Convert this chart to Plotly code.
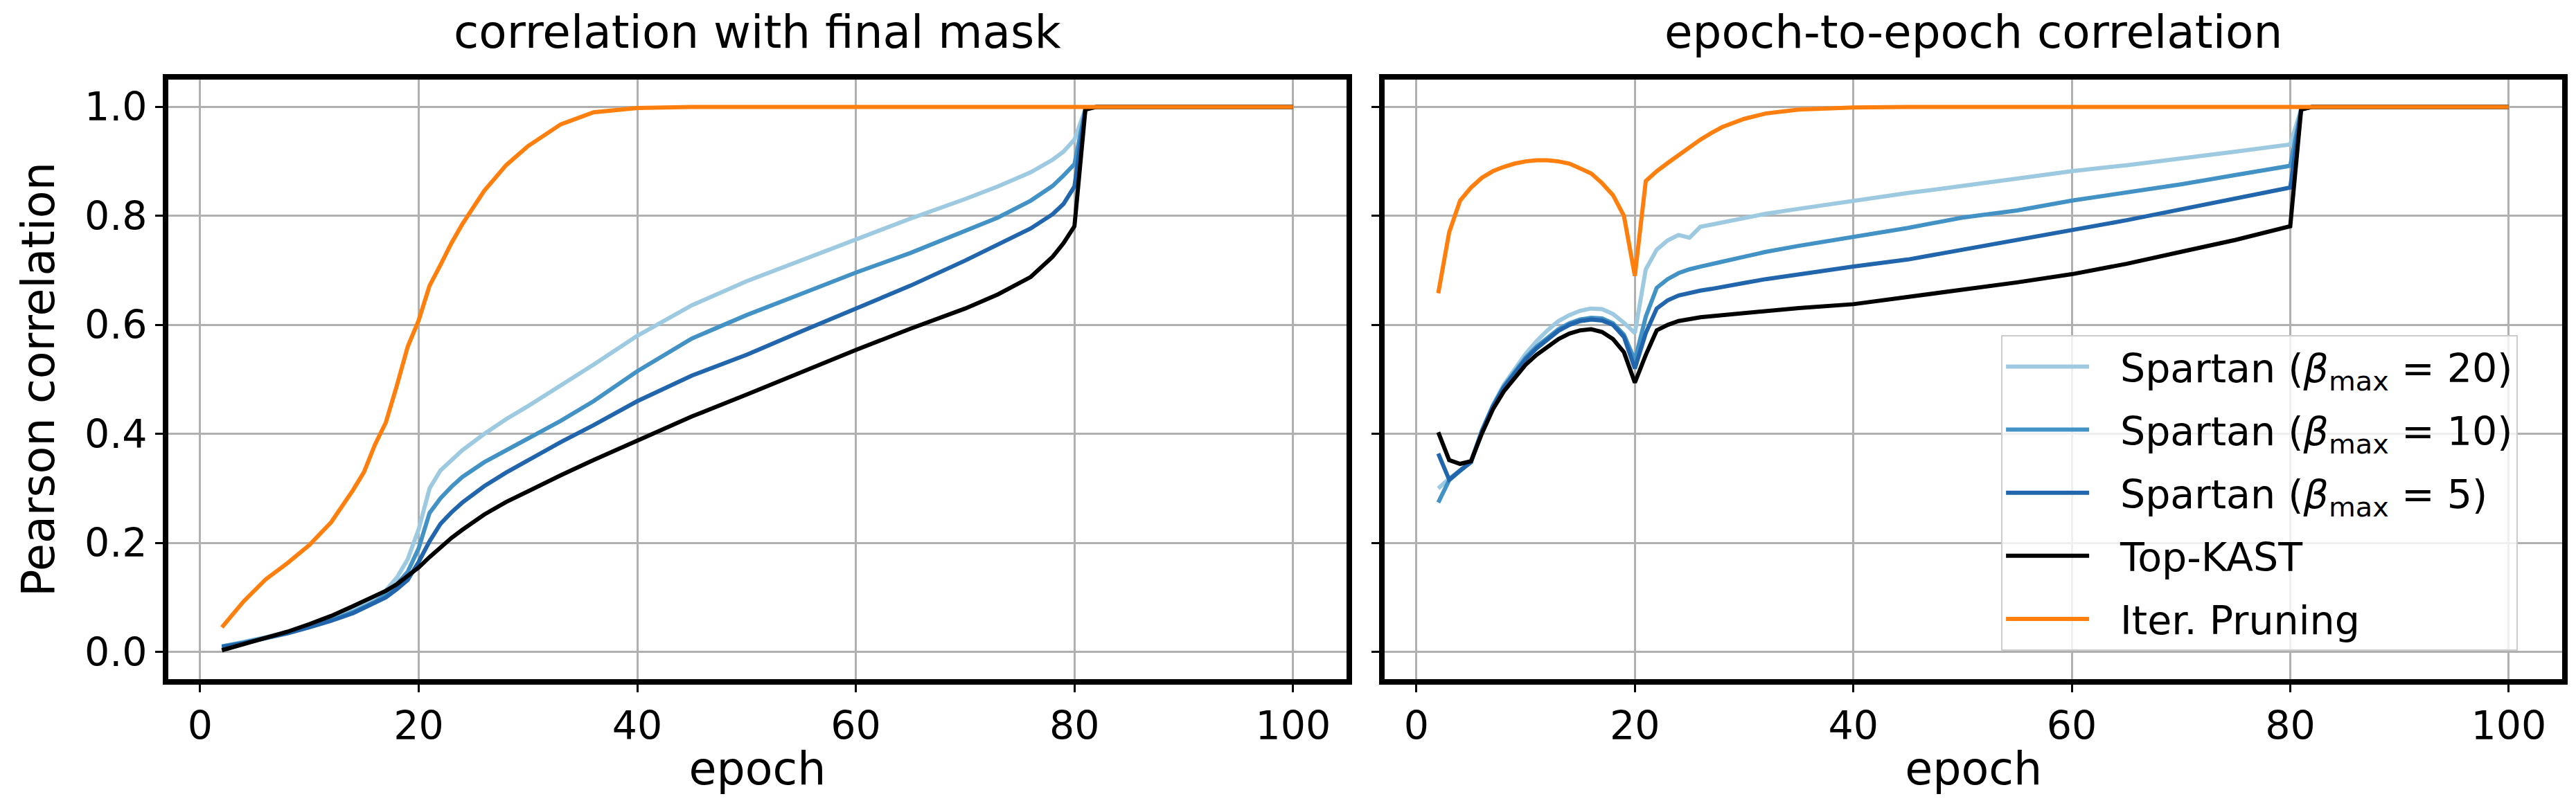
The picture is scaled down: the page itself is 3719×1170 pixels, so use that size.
import plotly.graph_objects as go

left_epochs = [2, 4, 6, 8, 10, 12, 14, 15, 16, 17, 18, 19, 20, 21, 22, 23, 24, 26, 28, 30,
               33, 36, 40, 45, 50, 55, 60, 65, 70, 73, 76, 78, 79, 80, 81, 82, 90, 100]
right_epochs = [2, 3, 4, 5, 6, 7, 8, 9, 10, 11, 12, 13, 14, 15, 16, 17, 18, 19, 20, 21, 22,
                23, 24, 25, 26, 27, 28, 30, 32, 35, 40, 45, 50, 55, 60, 65, 70, 75, 80, 81, 82, 90, 100]

# correlation with final mask
left_spartan20 = [0.010, 0.018, 0.027, 0.036, 0.047, 0.060, 0.076, 0.086, 0.097, 0.113, 0.136, 0.170,
                  0.225, 0.300, 0.333, 0.352, 0.370, 0.400, 0.427, 0.451, 0.488, 0.527, 0.580, 0.636,
                  0.680, 0.719, 0.757, 0.795, 0.831, 0.854, 0.880, 0.903, 0.918, 0.940, 0.996, 1.0, 1.0, 1.0]
left_spartan10 = [0.010, 0.017, 0.026, 0.035, 0.046, 0.058, 0.073, 0.082, 0.092, 0.105, 0.124, 0.147,
                  0.190, 0.255, 0.282, 0.303, 0.321, 0.348, 0.370, 0.392, 0.424, 0.460, 0.515, 0.575,
                  0.618, 0.657, 0.696, 0.732, 0.773, 0.797, 0.828, 0.855, 0.874, 0.895, 0.996, 1.0, 1.0, 1.0]
left_spartan5 = [0.009, 0.016, 0.025, 0.034, 0.045, 0.057, 0.071, 0.080, 0.089, 0.100, 0.115, 0.132,
                 0.165, 0.203, 0.235, 0.256, 0.274, 0.304, 0.329, 0.352, 0.385, 0.416, 0.460, 0.507,
                 0.545, 0.588, 0.629, 0.672, 0.718, 0.747, 0.777, 0.803, 0.822, 0.854, 0.996, 1.0, 1.0, 1.0]
left_topkast = [0.003, 0.014, 0.025, 0.037, 0.051, 0.066, 0.084, 0.093, 0.103, 0.112, 0.124, 0.139,
                0.155, 0.174, 0.192, 0.209, 0.224, 0.252, 0.275, 0.295, 0.324, 0.352, 0.387, 0.432,
                0.472, 0.514, 0.554, 0.593, 0.630, 0.656, 0.688, 0.725, 0.750, 0.781, 0.995, 1.0, 1.0, 1.0]
left_iterprune = [0.045, 0.093, 0.133, 0.163, 0.196, 0.238, 0.297, 0.330, 0.380, 0.421, 0.488, 0.560,
                  0.608, 0.672, 0.710, 0.750, 0.785, 0.846, 0.893, 0.928, 0.968, 0.990, 0.998, 1.0,
                  1.0, 1.0, 1.0, 1.0, 1.0, 1.0, 1.0, 1.0, 1.0, 1.0, 1.0, 1.0, 1.0, 1.0]

# epoch-to-epoch correlation
right_spartan20 = [0.300, 0.318, 0.333, 0.350, 0.407, 0.453, 0.490, 0.520, 0.547, 0.570, 0.590, 0.607,
                   0.618, 0.626, 0.630, 0.629, 0.620, 0.604, 0.585, 0.702, 0.738, 0.755, 0.765, 0.760,
                   0.780, 0.784, 0.788, 0.796, 0.804, 0.813, 0.828, 0.842, 0.855, 0.868, 0.882, 0.893,
                   0.905, 0.918, 0.931, 0.996, 1.0, 1.0, 1.0]
right_spartan10 = [0.274, 0.315, 0.332, 0.349, 0.406, 0.451, 0.487, 0.515, 0.540, 0.560, 0.577, 0.592,
                   0.603, 0.610, 0.613, 0.612, 0.603, 0.582, 0.535, 0.615, 0.668, 0.684, 0.695, 0.702,
                   0.707, 0.711, 0.716, 0.725, 0.734, 0.745, 0.762, 0.778, 0.797, 0.810, 0.828, 0.843,
                   0.858, 0.875, 0.892, 0.996, 1.0, 1.0, 1.0]
right_spartan5 = [0.364, 0.316, 0.333, 0.348, 0.405, 0.450, 0.485, 0.512, 0.537, 0.557, 0.574, 0.589,
                  0.600, 0.607, 0.610, 0.608, 0.600, 0.578, 0.520, 0.585, 0.630, 0.645, 0.654, 0.659,
                  0.663, 0.666, 0.670, 0.677, 0.684, 0.693, 0.707, 0.720, 0.738, 0.756, 0.773, 0.792,
                  0.812, 0.832, 0.852, 0.996, 1.0, 1.0, 1.0]
right_topkast = [0.403, 0.352, 0.345, 0.350, 0.401, 0.445, 0.478, 0.503, 0.527, 0.545, 0.560, 0.574,
                 0.584, 0.590, 0.592, 0.587, 0.574, 0.550, 0.494, 0.545, 0.590, 0.600, 0.607, 0.611,
                 0.614, 0.616, 0.618, 0.621, 0.626, 0.631, 0.638, 0.651, 0.664, 0.678, 0.693, 0.712,
                 0.734, 0.756, 0.781, 0.995, 1.0, 1.0, 1.0]
right_iterprune = [0.658, 0.770, 0.828, 0.852, 0.870, 0.882, 0.890, 0.896, 0.900, 0.902, 0.902, 0.900,
                   0.896, 0.888, 0.878, 0.860, 0.838, 0.800, 0.690, 0.864, 0.882, 0.897, 0.912, 0.927,
                   0.940, 0.952, 0.963, 0.978, 0.988, 0.995, 0.999, 1.0, 1.0, 1.0, 1.0, 1.0,
                   1.0, 1.0, 1.0, 1.0, 1.0, 1.0, 1.0]

names = ["Spartan (<i>β</i><sub>max</sub> = 20)", "Spartan (<i>β</i><sub>max</sub> = 10)",
         "Spartan (<i>β</i><sub>max</sub> = 5)", "Top-KAST", "Iter. Pruning"]
colors = ["#9ecae1", "#4292c6", "#2166ac", "#000000", "#ff7f0e"]

left_series = [left_spartan20, left_spartan10, left_spartan5, left_topkast, left_iterprune]
right_series = [right_spartan20, right_spartan10, right_spartan5, right_topkast, right_iterprune]

fig = go.Figure()
for i in range(5):
    fig.add_trace(go.Scatter(x=left_epochs, y=left_series[i], mode="lines", name=names[i],
                             line=dict(color=colors[i], width=6), showlegend=False,
                             xaxis="x", yaxis="y"))
for i in range(5):
    # en space + thin space to open a gap between the sample line and the label
    fig.add_trace(go.Scatter(x=right_epochs, y=right_series[i], mode="lines",
                             name="\u2002\u2009" + names[i],
                             line=dict(color=colors[i], width=6), legendgroup=str(i),
                             xaxis="x2", yaxis="y2"))

font = "DejaVu Sans"
axis_common = dict(showline=True, mirror=True, linecolor="black", linewidth=8,
                   showgrid=True, gridcolor="#b0b0b0", gridwidth=3, zeroline=False,
                   ticks="outside", ticklen=11, tickwidth=3, tickcolor="black",
                   tickfont=dict(family=font, size=57, color="black"))

fig.update_layout(
    width=3719, height=1170, autosize=False,
    margin=dict(l=0, r=0, t=0, b=0),
    paper_bgcolor="white", plot_bgcolor="white",
    font=dict(family=font, color="black"),
    xaxis=dict(domain=[0.0632, 0.5206], range=[-2.9, 104.9], tickvals=[0, 20, 40, 60, 80, 100],
               title=dict(text="epoch", font=dict(size=65), standoff=10), anchor="y", **axis_common),
    yaxis=dict(domain=[0.1684, 0.9085], range=[-0.05, 1.05], tickvals=[0, 0.2, 0.4, 0.6, 0.8, 1.0],
               tickformat=".1f", title=dict(text="Pearson correlation", font=dict(size=65), standoff=25),
               anchor="x", **axis_common),
    xaxis2=dict(domain=[0.5354, 0.9925], range=[-2.9, 104.9], tickvals=[0, 20, 40, 60, 80, 100],
                title=dict(text="epoch", font=dict(size=65), standoff=10), anchor="y2", **axis_common),
    yaxis2=dict(domain=[0.1684, 0.9085], range=[-0.05, 1.05], tickvals=[0, 0.2, 0.4, 0.6, 0.8, 1.0],
                showticklabels=False, anchor="x2", matches="y", **axis_common),
    legend=dict(x=0.7747, y=0.5932, xanchor="left", yanchor="top",
                bgcolor="rgba(255,255,255,0.8)", bordercolor="#cccccc", borderwidth=2,
                font=dict(family=font, size=57, color="black"),
                itemwidth=120, tracegroupgap=14, traceorder="grouped"),
    annotations=[
        dict(text="correlation with final mask", x=(0.0632 + 0.5206) / 2, y=1 - 39 / 1170,
             xref="paper", yref="paper", showarrow=False, xanchor="center", yanchor="middle",
             font=dict(family=font, size=66, color="black")),
        dict(text="epoch-to-epoch correlation", x=(0.5354 + 0.9925) / 2, y=1 - 39 / 1170,
             xref="paper", yref="paper", showarrow=False, xanchor="center", yanchor="middle",
             font=dict(family=font, size=66, color="black")),
    ],
)

fig.write_html("out.html")
